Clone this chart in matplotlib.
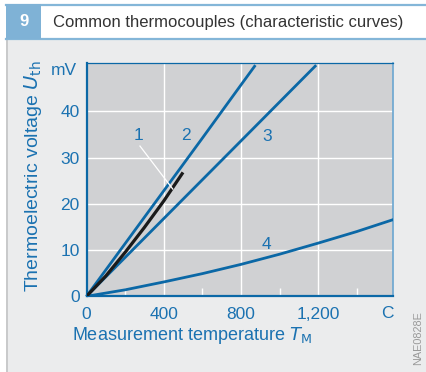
import matplotlib
matplotlib.use("Agg")
import matplotlib.pyplot as plt
from matplotlib.patches import Rectangle
from matplotlib.lines import Line2D
import numpy as np

# ---- data ----
t1 = [0, 100, 200, 300, 400, 500]
v1 = [0, 4.4, 9.5, 14.9, 20.6, 26.8]
t2 = [0, 200, 400, 600, 800, 875]
v2 = [0, 11.4, 22.8, 34.2, 45.7, 50.0]
t3 = [0, 400, 800, 1190]
v3 = [0, 16.8, 33.6, 50.0]
t4 = [0, 200, 400, 600, 800, 1000, 1200, 1400, 1590]
v4 = [0, 1.4, 3.1, 4.9, 6.9, 9.1, 11.5, 14.0, 16.6]
curve_labels = ["1", "2", "3", "4"]
label_pos = [(269, 34.8), (516, 34.8), (934, 34.5), (934, 11.1)]
xticks = [0, 400, 800, 1200]
xtick_labels = ["0", "400", "800", "1,200"]
yticks = [0, 10, 20, 30, 40]
ytick_labels = ["0", "10", "20", "30", "40"]
minor_x = [200, 600, 1000, 1400]

W, H = 426, 372
BLUE = "#0b68a6"
TXT = "#1b72b1"
plt.rcParams['font.family'] = ['Liberation Sans', 'DejaVu Sans']

fig = plt.figure(figsize=(W / 100, H / 100), dpi=100)
fig.patch.set_facecolor("white")

def fx(px):
    return px / W

def fy(py):
    return 1 - py / H

# panel background
fig.patches.append(Rectangle((fx(6), 0), fx(W - 6), fy(39), transform=fig.transFigure,
                             facecolor="#ebeced", edgecolor="none", zorder=-5))
fig.patches.append(Rectangle((fx(6), 0), fx(2), fy(39), transform=fig.transFigure,
                             facecolor="#c9cacb", edgecolor="none", zorder=-4))
# header lines
fig.lines.append(Line2D([fx(6), 1], [fy(4.5), fy(4.5)], transform=fig.transFigure,
                        color="#84b6d8", lw=1.6, zorder=-3))
fig.lines.append(Line2D([fx(6), 1], [fy(39), fy(39)], transform=fig.transFigure,
                        color="#84b6d8", lw=1.6, zorder=-3))
fig.patches.append(Rectangle((fx(6), fy(39)), fx(35), fy(4.5) - fy(39), transform=fig.transFigure,
                             facecolor="#7fb2d6", edgecolor="none", zorder=-2))
fig.text(fx(23.5), fy(22), "9", color="white", fontsize=12, fontweight="bold",
         ha="center", va="center")
fig.text(fx(53), fy(22), "Common thermocouples (characteristic curves)", color="#333333",
         fontsize=12, ha="left", va="center")

# axes
x0, x1, y0, y1 = 86.5, 393, 63.3, 296.3
ax = fig.add_axes([fx(x0), fy(y1), fx(x1 - x0), (y1 - y0) / H])
ax.set_zorder(5)
ax.set_facecolor("#d0d1d3")
ax.set_xlim(0, 1588)
ax.set_ylim(0, 50.4)

for gx in xticks[1:]:
    ax.axvline(gx, color="white", lw=1.0, zorder=1)
for gy in yticks[1:]:
    ax.axhline(gy, color="white", lw=1.0, zorder=1)
ax.set_xticks(minor_x, minor=True)
ax.tick_params(axis="x", which="minor", direction="in", length=6, width=1.0, color="white")

ax.set_xticks(xticks)
ax.set_xticklabels(xtick_labels)
ax.set_yticks(yticks)
ax.set_yticklabels(ytick_labels)
ax.tick_params(axis="both", which="major", length=0, labelsize=12.5, labelcolor=TXT)
ax.tick_params(axis="x", which="major", pad=8)
ax.tick_params(axis="y", which="major", pad=5)
ax.text(1560, -2.1, "C", color=TXT, fontsize=12.5, ha="center", va="top",
        transform=ax.transData, clip_on=False)
ax.text(-50, 48.8, "mV", color=TXT, fontsize=12.5, ha="right", va="center", clip_on=False)

ax.spines["left"].set_color(BLUE)
ax.spines["left"].set_linewidth(1.6)
ax.spines["bottom"].set_color(BLUE)
ax.spines["bottom"].set_linewidth(1.6)
ax.spines["top"].set_color(BLUE)
ax.spines["top"].set_linewidth(0.9)
ax.spines["right"].set_color("#6aa6d1")
ax.spines["right"].set_linewidth(1.2)

ax.plot(t2, v2, color=BLUE, lw=2.0, solid_capstyle="butt", zorder=3, clip_on=False)
ax.plot(t3, v3, color=BLUE, lw=2.0, solid_capstyle="butt", zorder=3, clip_on=False)
ax.plot(t4, v4, color=BLUE, lw=2.0, solid_capstyle="butt", zorder=3)
ax.plot(t1, v1, color="#1a1a1a", lw=2.3, solid_capstyle="butt", zorder=4)
ax.plot([277, 447], [32.5, 23.2], color="white", lw=0.9, zorder=5)

for lab, (lx, ly) in zip(curve_labels, label_pos):
    ax.text(lx, ly, lab, color=TXT, fontsize=12.5, ha="center", va="center", zorder=6)

fig.text(fx(192), fy(335), r"Measurement temperature $T_{\mathrm{M}}$", color=TXT,
         fontsize=13, ha="center", va="center")
fig.text(fx(33), fy(176), r"Thermoelectric voltage $U_{\mathrm{th}}$", color=TXT,
         fontsize=14, ha="center", va="center", rotation=90)
fig.text(fx(418), fy(338), "NAE0828E", color="#9a9a9a", fontsize=7.8, ha="center",
         va="center", rotation=90)

fig.savefig("out.png", dpi=100, facecolor="white")
